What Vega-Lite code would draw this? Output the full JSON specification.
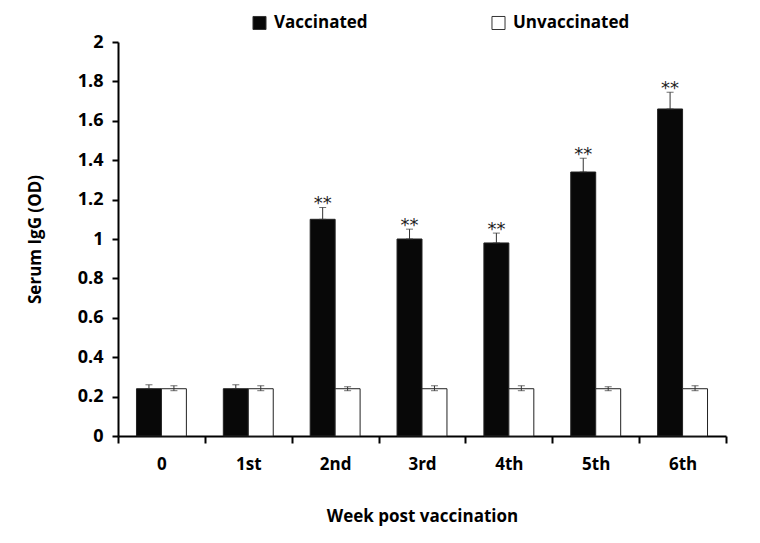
{
  "$schema": "https://vega.github.io/schema/vega-lite/v6.json",
  "autosize": "none",
  "width": 608,
  "height": 394,
  "padding": {"left": 118, "top": 42, "right": 34, "bottom": 107},
  "background": "white",
  "config": {
    "view": {"stroke": null},
    "font": "Open Sans",
    "axis": {"grid": false, "domainColor": "black", "domainWidth": 2, "tickColor": "black", "tickWidth": 2, "labelColor": "black", "titleColor": "black", "labelFont": "Open Sans", "titleFont": "Open Sans", "labelFontWeight": "bold", "titleFontWeight": "bold"},
    "axisY": {"labelOverlap": false, "labelFontSize": 18, "titleFontSize": 17, "tickSize": 6, "labelPadding": 9, "titlePadding": 33, "tickCount": 20}
  },
  "data": {
    "values": [
      {"week": "0", "group": "Vaccinated", "value": 0.24, "lo": 0.24, "hi": 0.26, "sig": ""},
      {"week": "0", "group": "Unvaccinated", "value": 0.24, "lo": 0.23, "hi": 0.255, "sig": ""},
      {"week": "1st", "group": "Vaccinated", "value": 0.24, "lo": 0.24, "hi": 0.26, "sig": ""},
      {"week": "1st", "group": "Unvaccinated", "value": 0.24, "lo": 0.23, "hi": 0.255, "sig": ""},
      {"week": "2nd", "group": "Vaccinated", "value": 1.10, "lo": 1.10, "hi": 1.16, "sig": "**"},
      {"week": "2nd", "group": "Unvaccinated", "value": 0.24, "lo": 0.23, "hi": 0.25, "sig": ""},
      {"week": "3rd", "group": "Vaccinated", "value": 1.00, "lo": 1.00, "hi": 1.05, "sig": "**"},
      {"week": "3rd", "group": "Unvaccinated", "value": 0.24, "lo": 0.23, "hi": 0.255, "sig": ""},
      {"week": "4th", "group": "Vaccinated", "value": 0.98, "lo": 0.98, "hi": 1.03, "sig": "**"},
      {"week": "4th", "group": "Unvaccinated", "value": 0.24, "lo": 0.23, "hi": 0.255, "sig": ""},
      {"week": "5th", "group": "Vaccinated", "value": 1.34, "lo": 1.34, "hi": 1.41, "sig": "**"},
      {"week": "5th", "group": "Unvaccinated", "value": 0.24, "lo": 0.23, "hi": 0.25, "sig": ""},
      {"week": "6th", "group": "Vaccinated", "value": 1.66, "lo": 1.66, "hi": 1.745, "sig": "**"},
      {"week": "6th", "group": "Unvaccinated", "value": 0.24, "lo": 0.23, "hi": 0.255, "sig": ""}
    ]
  },
  "encoding": {
    "x": {
      "field": "week", "type": "nominal",
      "sort": ["0", "1st", "2nd", "3rd", "4th", "5th", "6th"],
      "scale": {"paddingInner": 0, "paddingOuter": 0},
      "axis": {"title": "Week post vaccination", "labelAngle": 0, "labelFontSize": 17, "titleFontSize": 17, "tickBand": "extent", "tickSize": 7, "labelPadding": 13, "titlePadding": 36}
    },
    "xOffset": {
      "field": "group", "type": "nominal",
      "scale": {"domain": ["Vaccinated", "Unvaccinated"], "paddingInner": 0, "paddingOuter": 0.74}
    }
  },
  "layer": [
    {
      "mark": {"type": "bar", "stroke": "#222", "strokeWidth": 1},
      "encoding": {
        "y": {
          "field": "value", "type": "quantitative",
          "scale": {"domain": [0, 2], "nice": false},
          "axis": {"title": "Serum IgG (OD)", "tickCount": 20, "values": [0, 0.2, 0.4, 0.6, 0.8, 1, 1.2, 1.4, 1.6, 1.8, 2], "format": ".1~f", "labelOverlap": false}
        },
        "fill": {
          "field": "group", "type": "nominal",
          "scale": {"domain": ["Vaccinated", "Unvaccinated"], "range": ["#080808", "#ffffff"]},
          "legend": {
            "title": null, "orient": "none", "direction": "horizontal",
            "legendX": 133, "legendY": -28,
            "symbolType": "square", "symbolSize": 170, "symbolStrokeColor": "#333", "symbolStrokeWidth": 1,
            "labelFontSize": 17, "labelFontWeight": "bold", "labelColor": "black", "labelFont": "Open Sans",
            "columnPadding": 121, "labelOffset": 6
          }
        }
      }
    },
    {
      "mark": {"type": "rule", "color": "#333", "strokeWidth": 1},
      "encoding": {
        "y": {"field": "lo", "type": "quantitative"},
        "y2": {"field": "hi"}
      }
    },
    {
      "mark": {"type": "tick", "color": "#333", "thickness": 1, "size": 7, "orient": "horizontal"},
      "encoding": {
        "y": {"field": "hi", "type": "quantitative"}
      }
    },
    {
      "mark": {"type": "tick", "color": "#333", "thickness": 1, "size": 7, "orient": "horizontal"},
      "encoding": {
        "y": {"field": "lo", "type": "quantitative"}
      }
    },
    {
      "transform": [{"filter": "datum.sig != ''"}],
      "mark": {"type": "text", "fontSize": 18, "font": "DejaVu Sans", "color": "#222", "baseline": "alphabetic", "dy": 2},
      "encoding": {
        "y": {"field": "hi", "type": "quantitative"},
        "text": {"field": "sig"}
      }
    }
  ]
}
